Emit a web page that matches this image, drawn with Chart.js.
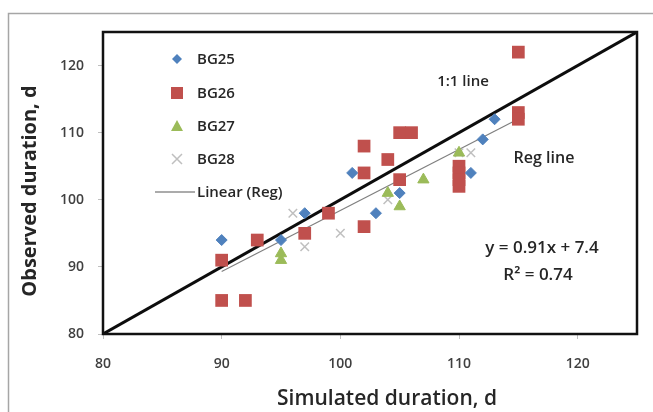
<!DOCTYPE html>
<html lang="en">
<head>
    <meta charset="UTF-8">
    <title>Observed vs simulated duration</title>
    <script src="https://cdn.jsdelivr.net/npm/chart.js@4.4.0/dist/chart.umd.min.js"></script>
    <style>
        html, body {
            margin: 0;
            padding: 0;
            background: #fff;
            font-family: 'Open Sans', sans-serif;
        }
        .chart-container {
            position: relative;
            width: 653px;
            height: 412px;
        }
    </style>
</head>
<body>
    <div class="chart-container">
        <canvas id="myChart" width="653" height="412"></canvas>
    </div>
    <script>
        // values
        var bg25X = [90, 95, 97, 101, 103, 105, 111, 112, 113]
        var bg25Y = [94, 94, 98, 104, 98, 101, 104, 109, 112]

        var bg26X = [90, 90, 92, 93, 97, 99, 102, 102, 102, 104, 105, 106, 105, 110, 110, 110, 110, 115, 115, 115]
        var bg26Y = [91, 85, 85, 94, 95, 98, 108, 104, 96, 106, 110, 110, 103, 105, 104, 103, 102, 122, 113, 112]

        var bg27X = [95, 95, 104, 105, 107, 110]
        var bg27Y = [91, 92, 101, 99, 103, 107]

        var bg28X = [96, 97, 100, 104, 110, 111]
        var bg28Y = [98, 93, 95, 100, 107, 107]

        // trendline ends and the 1:1 line
        var regX = [90, 114.5]
        var regY = [89.3, 111.6]
        var oneX = [80, 125]
        var oneY = [80, 125]

        var xTicks = [80, 90, 100, 110, 120]
        var yTicks = [80, 90, 100, 110, 120]

        function pts(xs, ys) {
            return xs.map(function (x, i) { return { x: x, y: ys[i] } })
        }

        var FONT = "'Open Sans', sans-serif"

        var extras = {
            id: 'extras',
            beforeDraw: function (chart) {
                var c = chart.ctx
                c.save()
                c.fillStyle = '#fff'
                c.fillRect(0, 0, chart.width, chart.height)
                c.strokeStyle = '#a6a6a6'
                c.lineWidth = 1.5
                c.strokeRect(8.5, 13.5, 700, 500)
                c.restore()
            },
            afterDraw: function (chart) {
                var c = chart.ctx
                var a = chart.chartArea
                c.save()
                // plot frame
                c.strokeStyle = '#111'
                c.lineWidth = 2.5
                c.strokeRect(a.left, a.top, a.right - a.left, a.bottom - a.top)

                // axis titles
                c.fillStyle = '#262626'
                c.textAlign = 'center'
                c.textBaseline = 'middle'
                c.font = '600 21px ' + FONT
                c.fillText('Simulated duration, d', 387, 399)
                c.save()
                c.translate(30, 191)
                c.rotate(-Math.PI / 2)
                c.font = 'bold 20px ' + FONT
                c.fillText('Observed duration, d', 0, 0)
                c.restore()

                // notes
                c.font = '600 15px ' + FONT
                c.fillText('1:1 line', 463, 82)
                c.font = '600 16px ' + FONT
                c.fillText('Reg line', 544, 158)
                c.font = '600 17px ' + FONT
                c.fillText('y = 0.91x + 7.4', 542, 248)
                c.fillText('R² = 0.74', 538, 275)

                // legend
                var rows = [59, 93, 126, 159, 192]
                var mx = 177
                c.textAlign = 'left'
                c.font = '600 15px ' + FONT
                chart.data.datasets.forEach(function (ds, i) {
                    if (i > 4) return
                    var y = rows[i]
                    c.fillStyle = ds.backgroundColor
                    c.strokeStyle = ds.borderColor
                    c.lineWidth = 1.5
                    c.beginPath()
                    if (ds.pointStyle === 'rectRot') {
                        c.moveTo(mx, y - 5); c.lineTo(mx + 5, y); c.lineTo(mx, y + 5); c.lineTo(mx - 5, y); c.closePath(); c.fill()
                    } else if (ds.pointStyle === 'rect') {
                        c.rect(mx - 6, y - 6, 12, 12); c.fill()
                    } else if (ds.pointStyle === 'triangle') {
                        c.moveTo(mx, y - 6); c.lineTo(mx + 6, y + 5); c.lineTo(mx - 6, y + 5); c.closePath(); c.fill()
                    } else if (ds.pointStyle === 'crossRot') {
                        c.moveTo(mx - 5, y - 5); c.lineTo(mx + 5, y + 5); c.moveTo(mx + 5, y - 5); c.lineTo(mx - 5, y + 5); c.stroke()
                    } else {
                        c.strokeStyle = '#595959'
                        c.lineWidth = 1.2
                        c.moveTo(155, y); c.lineTo(195, y); c.stroke()
                    }
                    c.fillStyle = '#262626'
                    c.fillText(ds.label, 197, y + 1)
                })
                c.restore()
            }
        }

        var ctx = document.getElementById('myChart').getContext('2d')

        var myChart = new Chart(ctx, {
            type: 'scatter',
            data: {
                datasets: [{
                    label: 'BG25',
                    data: pts(bg25X, bg25Y),
                    pointStyle: 'rectRot',
                    pointRadius: 5.5,
                    backgroundColor: '#4f81bd',
                    borderColor: '#4f81bd',
                    borderWidth: 1
                }, {
                    label: 'BG26',
                    data: pts(bg26X, bg26Y),
                    pointStyle: 'rect',
                    pointRadius: 9,
                    backgroundColor: '#c0504d',
                    borderColor: '#c0504d',
                    borderWidth: 0
                }, {
                    label: 'BG27',
                    data: pts(bg27X, bg27Y),
                    pointStyle: 'triangle',
                    pointRadius: 6.5,
                    backgroundColor: '#9bbb59',
                    borderColor: '#9bbb59',
                    borderWidth: 1
                }, {
                    label: 'BG28',
                    data: pts(bg28X, bg28Y),
                    pointStyle: 'crossRot',
                    pointRadius: 6,
                    backgroundColor: '#bfbfbf',
                    borderColor: '#bfbfbf',
                    borderWidth: 1.5
                }, {
                    label: 'Linear (Reg)',
                    type: 'line',
                    data: pts(regX, regY),
                    borderColor: '#7f7f7f',
                    backgroundColor: '#7f7f7f',
                    borderWidth: 1.2,
                    pointRadius: 0,
                    showLine: true
                }, {
                    label: '1:1',
                    type: 'line',
                    data: pts(oneX, oneY),
                    borderColor: '#0d0d0d',
                    borderWidth: 3,
                    pointRadius: 0,
                    showLine: true
                }]
            },
            options: {
                responsive: false,
                animation: false,
                layout: {
                    padding: { top: 32, right: 16, left: 0, bottom: 0 }
                },
                plugins: {
                    legend: { display: false },
                    tooltip: { enabled: false }
                },
                scales: {
                    x: {
                        type: 'linear',
                        min: 80,
                        max: 125,
                        afterFit: function (s) { s.height = 78 },
                        afterBuildTicks: function (s) { s.ticks = xTicks.map(function (v) { return { value: v } }) },
                        ticks: {
                            font: { family: FONT, size: 14, weight: '600' },
                            color: '#404040',
                            padding: 17
                        },
                        grid: { drawOnChartArea: false, tickLength: 5, color: '#bfbfbf' },
                        border: { display: false }
                    },
                    y: {
                        min: 80,
                        max: 125,
                        afterFit: function (s) { s.width = 103 },
                        afterBuildTicks: function (s) { s.ticks = yTicks.map(function (v) { return { value: v } }) },
                        ticks: {
                            font: { family: FONT, size: 14, weight: '600' },
                            color: '#404040',
                            padding: 14
                        },
                        grid: { drawOnChartArea: false, tickLength: 5, color: '#bfbfbf' },
                        border: { display: false }
                    }
                }
            },
            plugins: [extras]
        });
    </script>
</body>
</html>
